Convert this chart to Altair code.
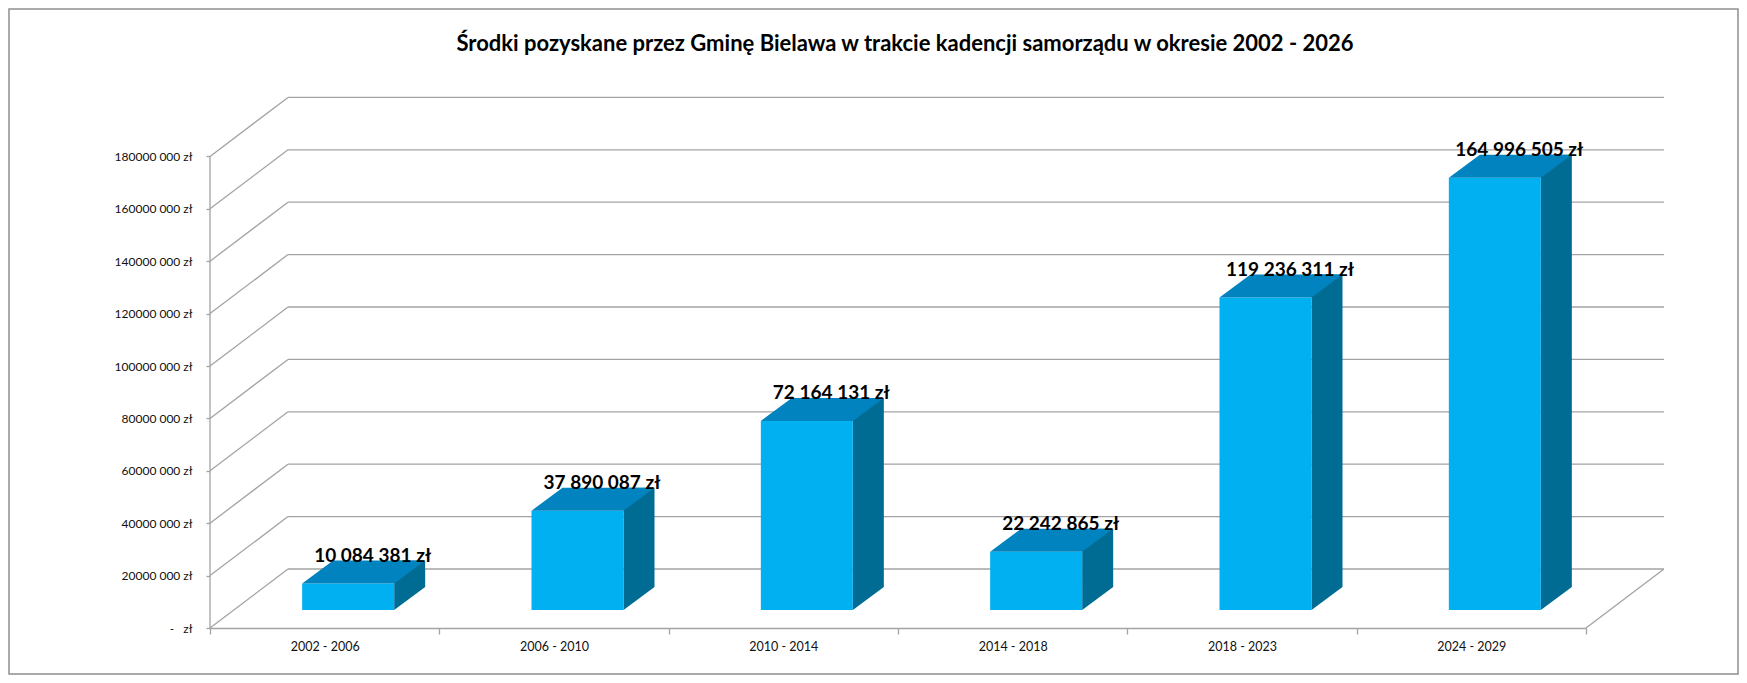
import altair as alt
import pandas as pd

# ---- data ----
categories = ["2002 - 2006", "2006 - 2010", "2010 - 2014", "2014 - 2018", "2018 - 2023", "2024 - 2029"]
values = [10084381, 37890087, 72164131, 22242865, 119236311, 164996505]
tick_values = [0, 20000000, 40000000, 60000000, 80000000, 100000000,
               120000000, 140000000, 160000000, 180000000]
title_text = "Środki pozyskane przez Gminę Bielawa w trakcie kadencji samorządu w okresie 2002 - 2026"


def fmt(v):
    return f"{v:,}".replace(",", " ") + " zł"


labels = [fmt(v) for v in values]

df = pd.DataFrame({"okres": categories, "kwota": values, "etykieta": labels})
grid_df = pd.DataFrame({"v": tick_values})
frame_df = pd.DataFrame({"a": [0], "b": [tick_values[-1]]})
title_df = pd.DataFrame({"t": [title_text]})

# ---- styling ----
W, H = 1376, 524
DX, DY = 78, 59          # depth of back wall
FRONT = "#00B0F0"
TOPC = "#0083BE"
SIDE = "#006C94"
GRID = "#a3a3a3"
TXT = "#111111"
FONT = "Lato"

TOP_SHAPE = "M -22.5 -18 L 69.5 -18 L 100.5 -41 L 8.5 -41 Z"
BOT_SHAPE = "M 69.5 -18 L 69.5 -41 L 100.5 -41 Z"

y_scale = alt.Scale(domain=[0, 200000000], nice=False, zero=True)
x_scale = alt.Scale(domain=categories, paddingInner=0, paddingOuter=0)

y_axis = alt.Axis(
    values=tick_values,
    labelExpr="datum.value == 0 ? '-\u00a0\u00a0\u00a0zł' : format(floor(datum.value / 1000), 'd') + ' 000 zł'",
    title=None, grid=False, domain=False, tickSize=4, tickColor=GRID, tickWidth=1.3,
    labelPadding=14, labelFont=FONT, labelFontSize=12, labelColor=TXT,
)
x_axis = alt.Axis(
    title=None, labelAngle=0, tickBand="extent", domainColor=GRID, domainWidth=1.3,
    tickColor=GRID, tickWidth=1.3, tickSize=6, labelPadding=6, labelFont=FONT,
    labelFontSize=12.5, labelColor=TXT,
)


def X():
    return alt.X("okres:N", scale=x_scale, sort=categories, axis=x_axis)


def Y(field):
    return alt.Y(field, scale=y_scale, axis=y_axis)


grid = alt.Chart(grid_df).mark_rule(color=GRID, strokeWidth=1.3, yOffset=-DY).encode(
    y=Y("v:Q"), x=alt.value(DX), x2=alt.value(W + DX),
)

diag = alt.Chart(grid_df).mark_rule(color=GRID, strokeWidth=1.3, y2Offset=-DY).encode(
    y=Y("v:Q"), y2="v:Q", x=alt.value(0), x2=alt.value(DX),
)

floor_edge = alt.Chart(frame_df).mark_rule(color=GRID, strokeWidth=1.3, y2Offset=-DY).encode(
    y=Y("a:Q"), y2="a:Q", x=alt.value(W), x2=alt.value(W + DX),
)

y_line = alt.Chart(frame_df).mark_rule(color=GRID, strokeWidth=1.3).encode(
    y=Y("a:Q"), y2="b:Q", x=alt.value(0),
)

side = alt.Chart(df).mark_bar(color=SIDE, size=31, xOffset=85, yOffset=-41, y2Offset=-41).encode(
    x=X(), y=Y("kwota:Q"), y2=alt.datum(0),
)

bottom_tri = alt.Chart(df).mark_point(
    shape=BOT_SHAPE, size=4, filled=True, opacity=1, strokeWidth=0, color=SIDE
).encode(x=X(), y=alt.datum(0))

front = alt.Chart(df).mark_bar(color=FRONT, size=92, xOffset=23.5, yOffset=-18, y2Offset=-18).encode(
    x=X(), y=Y("kwota:Q"), y2=alt.datum(0),
)

top = alt.Chart(df).mark_point(
    shape=TOP_SHAPE, size=4, filled=True, opacity=1, strokeWidth=0, color=TOPC
).encode(x=X(), y=Y("kwota:Q"))

text = alt.Chart(df).mark_text(
    dx=48, dy=-40, baseline="alphabetic", align="center", font=FONT, fontWeight="bold",
    fontSize=19, color="#000000"
).encode(x=X(), y=Y("kwota:Q"), text="etykieta:N")

title = alt.Chart(title_df).mark_text(
    baseline="alphabetic", align="center", font=FONT, fontWeight="bold",
    fontSize=22, color="#000000"
).encode(x=alt.value(W / 2 + 7), y=alt.value(-53), text="t:N")

border = alt.Chart(frame_df).mark_rect(
    filled=False, color="#8f8f8f", strokeWidth=1.5
).encode(x=alt.value(-201), x2=alt.value(W + 152), y=alt.value(-95), y2=alt.value(H + 46))

chart = alt.layer(
    grid, diag, floor_edge, y_line, side, bottom_tri, front, top, text, title, border
).properties(
    width=W, height=H,
    autosize=alt.AutoSizeParams(type="none"),
    padding={"left": 202, "top": 96, "right": 153, "bottom": 47},
    background="white",
).configure_view(stroke=None)

chart.save("out.html", embed_options={"renderer": "svg", "actions": False})
